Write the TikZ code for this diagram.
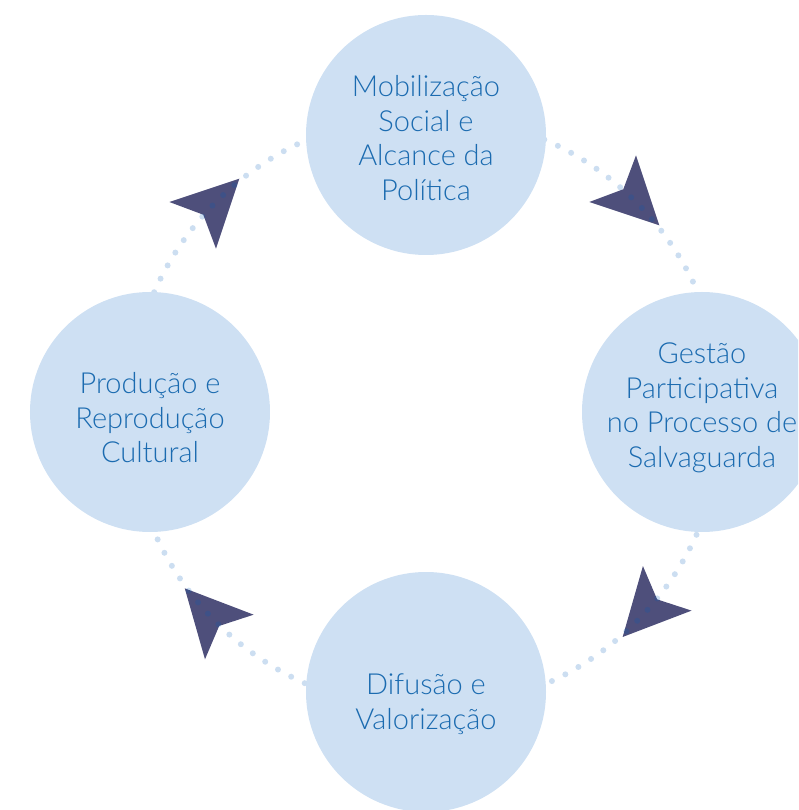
\documentclass[tikz,border=0pt]{standalone}
\usepackage{fontspec}
\setmainfont{Lato Light}
\usetikzlibrary{calc}

\definecolor{circfill}{RGB}{206,224,243}
\definecolor{textblue}{RGB}{27,107,176}
\definecolor{arrowcol}{RGB}{78,79,123}
\definecolor{dotblue}{RGB}{0,90,185}

\tikzset{
  stage/.style={circle, fill=circfill, minimum size=240pt, inner sep=0pt},
  stagetext/.style={align=center, text=textblue, inner sep=0pt,
    font=\fontsize{29}{34.5}\selectfont},
  ring/.style={dotblue, opacity=0.2, line width=6pt, line cap=round,
    dash pattern=on 0pt off 14.998pt},
  cyclearrow/.pic={\fill[arrowcol] (33,0) -- (-33,-33) -- (-18,0) -- (-33,33) -- cycle;}
}

\begin{document}
\begin{tikzpicture}[x=1pt,y=1pt]
  \clip (-426,-398) rectangle (372,412);
  \useasboundingbox (-426,-398) rectangle (372,412);
  \coordinate (hub) at (0,0);

  % arrows, then the dotted ring over them
  \foreach \a in {45,135,222.5,317.5}
    \pic[rotate=\a-90] at (\a:297) {cyclearrow};
  \draw[ring] (hub) circle (297);

  % the four stages
  \node[stage, label={[stagetext,yshift=-3pt]center:Mobilização\\Social e\\Alcance da\\Política}]
    (mobil) at (0,277) {};
  \node[stage, label={[stagetext,yshift=4pt]center:Gestão\\Participativa\\no Processo de\\Salvaguarda}]
    (gestao) at (276,0) {};
  \node[stage, label={[stagetext,yshift=-12pt]center:Difusão e\\Valorização}]
    (difusao) at (0,-280) {};
  \node[stage, label={[stagetext,yshift=-6pt]center:Produção e\\Reprodução\\Cultural}]
    (producao) at (-276,0) {};
\end{tikzpicture}
\end{document}
